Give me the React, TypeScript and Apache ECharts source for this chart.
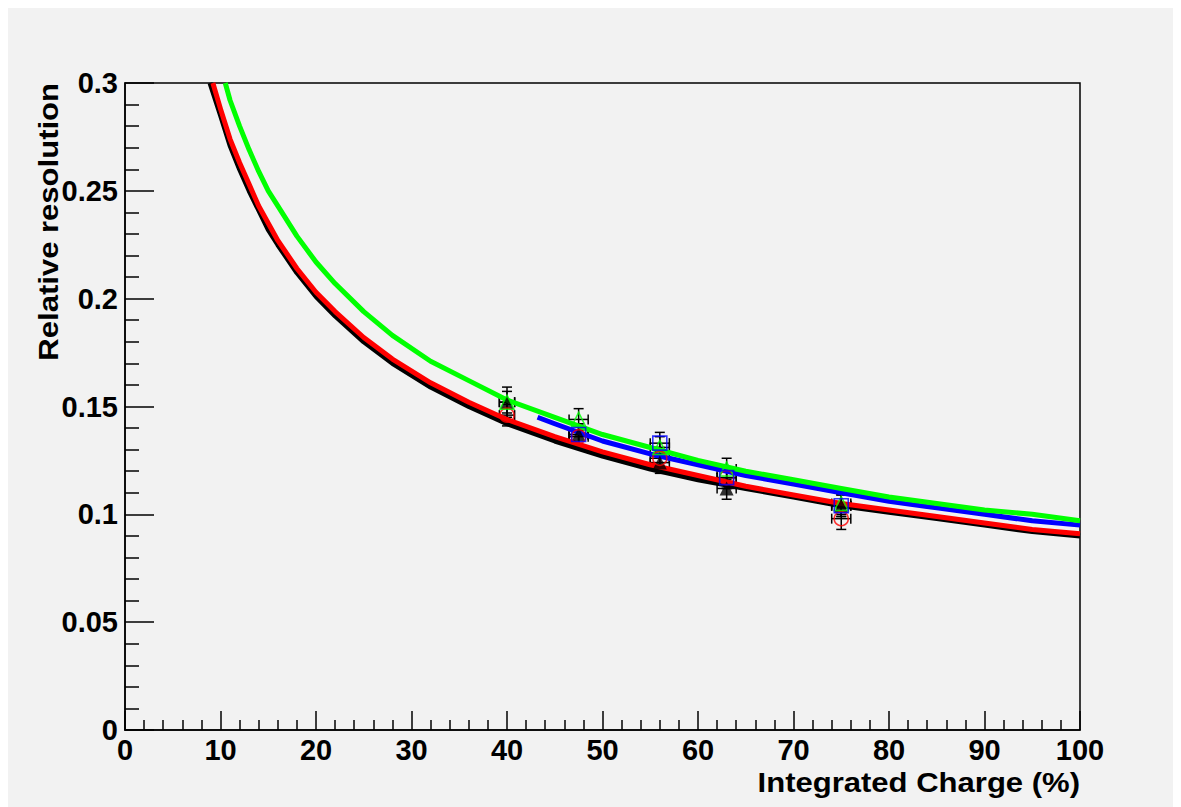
import React, { useEffect, useRef } from "react";
import * as echarts from "echarts";

// Fit curves
const blackCurveX = [8.9, 10, 11, 12, 13, 14, 15, 16, 18, 20, 22, 25, 28, 32, 36, 40, 45, 50, 55, 60, 65, 70, 75, 80, 85, 90, 95, 100];
const blackCurveY = [0.3, 0.285, 0.271, 0.26, 0.25, 0.241, 0.232, 0.225, 0.212, 0.201, 0.192, 0.18, 0.17, 0.159, 0.15, 0.142, 0.134, 0.127, 0.121, 0.116, 0.112, 0.108, 0.104, 0.101, 0.098, 0.095, 0.092, 0.09];
const redCurveX = [9.2, 10, 11, 12, 13, 14, 15, 16, 18, 20, 22, 25, 28, 32, 36, 40, 45, 50, 55, 60, 65, 70, 75, 80, 85, 90, 95, 100];
const redCurveY = [0.3, 0.288, 0.274, 0.263, 0.253, 0.243, 0.235, 0.227, 0.214, 0.203, 0.194, 0.182, 0.172, 0.161, 0.152, 0.144, 0.136, 0.129, 0.123, 0.118, 0.113, 0.109, 0.105, 0.102, 0.099, 0.096, 0.093, 0.091];
const blueCurveX = [43.2, 45, 50, 55, 60, 65, 70, 75, 80, 85, 90, 95, 100];
const blueCurveY = [0.145, 0.142, 0.134, 0.128, 0.123, 0.118, 0.114, 0.11, 0.106, 0.103, 0.1, 0.097, 0.095];
const greenCurveX = [10.5, 11, 12, 13, 14, 15, 16, 18, 20, 22, 25, 28, 32, 36, 40, 45, 50, 55, 60, 65, 70, 75, 80, 85, 90, 95, 100];
const greenCurveY = [0.3, 0.292, 0.28, 0.269, 0.259, 0.25, 0.243, 0.229, 0.217, 0.207, 0.194, 0.183, 0.171, 0.162, 0.153, 0.145, 0.137, 0.131, 0.125, 0.12, 0.116, 0.112, 0.108, 0.105, 0.102, 0.1, 0.097];

// Measured points
const pointX = [40, 47.5, 56, 63, 75];
const pointXErr = [0.8, 1, 1, 1, 1];
const blackPts = [0.152, 0.137, 0.124, 0.112, 0.104];
const blackErr = [0.007, 0.005, 0.005, 0.005, 0.005];
const redPts = [0.146, 0.136, 0.126, 0.117, 0.098];
const redErr = [0.005, 0.005, 0.005, 0.005, 0.005];
const greenPts = [0.152, 0.144, 0.131, 0.121, 0.105];
const greenErr = [0.005, 0.005, 0.005, 0.005, 0.005];
const bluePts = [null, 0.137, 0.133, 0.117, 0.104];
const blueErr = [0.005, 0.005, 0.005, 0.005, 0.005];

const xTitle = "Integrated Charge (%)";
const yTitle = "Relative resolution";

const FONT = "'Liberation Sans', Arial, Helvetica, sans-serif";

function pairs(xs: number[], ys: (number | null)[]) {
  const out: number[][] = [];
  xs.forEach((x, i) => {
    const y = ys[i];
    if (y !== null && y !== undefined) out.push([x, y]);
  });
  return out;
}

function errData(ys: (number | null)[], errs: number[]) {
  const out: number[][] = [];
  pointX.forEach((x, i) => {
    const y = ys[i];
    if (y !== null && y !== undefined) out.push([x, y, pointXErr[i], errs[i]]);
  });
  return out;
}

function curve(name: string, xs: number[], ys: number[], color: string) {
  return {
    name,
    type: "line",
    data: pairs(xs, ys),
    smooth: false,
    showSymbol: false,
    symbol: "none",
    lineStyle: { color, width: 5, join: "round" },
    clip: true,
  };
}

function errBars(name: string, ys: (number | null)[], errs: number[]) {
  return {
    name,
    type: "custom",
    data: errData(ys, errs),
    renderItem: (params: any, api: any) => {
      const x = api.value(0);
      const y = api.value(1);
      const ex = api.value(2);
      const ey = api.value(3);
      const l = api.coord([x - ex, y]);
      const r = api.coord([x + ex, y]);
      const t = api.coord([x, y + ey]);
      const b = api.coord([x, y - ey]);
      const cap = 5;
      const st = { stroke: "#000", lineWidth: 1.5 };
      return {
        type: "group",
        children: [
          { type: "line", shape: { x1: l[0], y1: l[1], x2: r[0], y2: r[1] }, style: st },
          { type: "line", shape: { x1: t[0], y1: t[1], x2: b[0], y2: b[1] }, style: st },
          { type: "line", shape: { x1: l[0], y1: l[1] - cap, x2: l[0], y2: l[1] + cap }, style: st },
          { type: "line", shape: { x1: r[0], y1: r[1] - cap, x2: r[0], y2: r[1] + cap }, style: st },
          { type: "line", shape: { x1: t[0] - cap, y1: t[1], x2: t[0] + cap, y2: t[1] }, style: st },
          { type: "line", shape: { x1: b[0] - cap, y1: b[1], x2: b[0] + cap, y2: b[1] }, style: st },
        ],
      };
    },
  };
}

function markers(name: string, ys: (number | null)[], symbol: string, color: string, filled: boolean) {
  return {
    name,
    type: "scatter",
    data: pairs(pointX, ys),
    symbol,
    symbolSize: 14,
    itemStyle: filled
      ? { color }
      : { color: "rgba(0,0,0,0)", borderColor: color, borderWidth: 1.6 },
    z: 5,
  };
}

export default function App() {
  const ref = useRef<HTMLDivElement>(null);
  useEffect(() => {
    if (!ref.current) return;
    const chart = echarts.init(ref.current, null, { renderer: "svg" });
    const tickLabel = { fontFamily: FONT, fontWeight: "bold", fontSize: 29, color: "#000" };
    chart.setOption({
      animation: false,
      backgroundColor: "#f2f2f2",
      grid: {
        left: 117,
        top: 75,
        right: 93,
        bottom: 77,
        show: true,
        borderColor: "#000",
        borderWidth: 1.5,
        backgroundColor: "transparent",
      },
      xAxis: {
        type: "value",
        min: 0,
        max: 100,
        interval: 10,
        axisLine: { show: true, onZero: false, lineStyle: { color: "#000", width: 1.5 } },
        axisTick: { show: true, inside: true, length: 19, lineStyle: { color: "#000", width: 1.5 } },
        minorTick: { show: true, splitNumber: 5, length: 10, lineStyle: { color: "#000", width: 1.5 } },
        splitLine: { show: false },
        axisLabel: { ...tickLabel, margin: 5 },
      },
      yAxis: {
        type: "value",
        min: 0,
        max: 0.3,
        interval: 0.05,
        axisLine: { show: true, onZero: false, lineStyle: { color: "#000", width: 1.5 } },
        axisTick: { show: true, inside: true, length: 29, lineStyle: { color: "#000", width: 1.5 } },
        minorTick: { show: true, splitNumber: 5, length: 14, lineStyle: { color: "#000", width: 1.5 } },
        splitLine: { show: false },
        axisLabel: { ...tickLabel, margin: 7 },
      },
      graphic: [
        {
          type: "text",
          x: 1072,
          y: 775,
          scaleX: 1.15,
          style: {
            text: xTitle,
            font: `bold 27px ${FONT}`,
            fill: "#000",
            textAlign: "right",
            textVerticalAlign: "middle",
          },
        },
        {
          type: "text",
          x: 41,
          y: 75,
          rotation: Math.PI / 2,
          scaleX: 1.15,
          style: {
            text: yTitle,
            font: `bold 27px ${FONT}`,
            fill: "#000",
            textAlign: "right",
            textVerticalAlign: "middle",
          },
        },
      ],
      series: [
        curve("black fit", blackCurveX, blackCurveY, "#000000"),
        curve("red fit", redCurveX, redCurveY, "#ff0000"),
        curve("blue fit", blueCurveX, blueCurveY, "#0000ff"),
        curve("green fit", greenCurveX, greenCurveY, "#00ff00"),
        errBars("black err", blackPts, blackErr),
        errBars("red err", redPts, redErr),
        errBars("green err", greenPts, greenErr),
        errBars("blue err", bluePts, blueErr),
        markers("black", blackPts, "triangle", "#000000", true),
        markers("red", redPts, "circle", "#ff0000", false),
        markers("green", greenPts, "triangle", "#00ff00", false),
        markers("blue", bluePts, "rect", "#0000ff", false),
      ],
    });
    return () => chart.dispose();
  }, []);
  return <div ref={ref} style={{ width: 1165, height: 799 }} />;
}
